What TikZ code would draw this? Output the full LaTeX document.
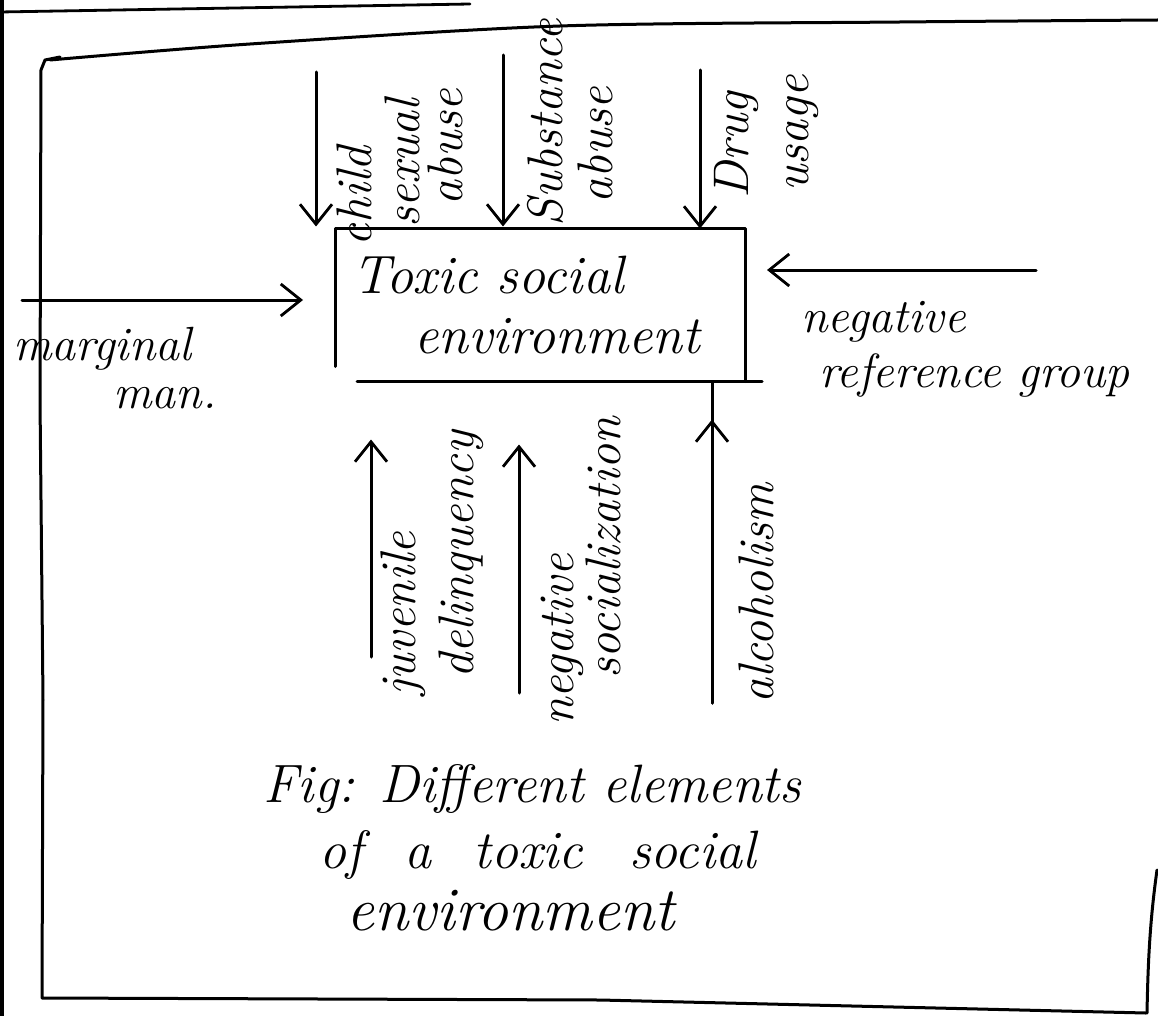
\documentclass[tikz,border=0pt]{standalone}
\usetikzlibrary{arrows.meta}
\begin{document}
\begin{tikzpicture}[x=1pt,y=-1pt,line width=3pt,line cap=round,line join=round,
  arr/.style={-{Straight Barb[length=20pt,width=32pt,line width=2.8pt]}},
  boxtext/.style={font=\fontsize{54}{62}\selectfont\itshape,inner sep=0pt,align=left},
  side/.style={font=\fontsize{48}{50}\selectfont\itshape,inner sep=0pt,anchor=base west},
  vlab/.style={font=\fontsize{50}{50}\selectfont\itshape,inner sep=0pt,anchor=base west,rotate=90},
  captxt/.style={font=\fontsize{54}{60}\selectfont\itshape,inner sep=0pt,anchor=base west}]

\path[use as bounding box] (0,0) rectangle (1158,1016);
\fill[white] (0,0) rectangle (1158,1016);

% page edges
\draw[line width=3.4pt] (2,0) -- (2,1016);
\draw[line width=2.8pt] (0,12) -- (470,4);

% outer frame
\draw (60,57) -- (45,60) -- (41,70) -- (40,400) -- (43,700) -- (42,998) -- (600,1000) -- (1146,1013);
\draw plot[smooth] coordinates {(50,60) (250,44) (560,26) (900,22) (1158,20)};
\draw (1157,870) .. controls (1150,920) and (1148,960) .. (1147,1013);

% central box
\node[boxtext,minimum width=407pt,minimum height=150pt] (box) at (540,305)
  {\raisebox{-6pt}{Toxic social}\\[-2pt]\hspace*{62pt}\raisebox{-6pt}{environment}\hspace*{28pt}};
\draw ([yshift=15pt]box.south west) -- (box.north west) -- (box.north east) -- (box.south east);
\draw ([xshift=22pt]box.south west) -- ([xshift=17pt]box.south east);

% arrow tails
\coordinate (t1) at (316,72);
\coordinate (t2) at (503,55);
\coordinate (t3) at (700,70);
\coordinate (t4) at (22,300);
\coordinate (t5) at (1036,270);
\coordinate (t6) at (371,657);
\coordinate (t7) at (519,693);
\coordinate (t8) at (712,703);

\draw[arr,shorten >=2pt] (t1) -- (t1 |- box.north);
\draw[arr,shorten >=2pt] (t2) -- (t2 |- box.north);
\draw[arr] (t3) -- (t3 |- box.north);
\draw[arr,shorten >=32pt] (t4) -- (t4 -| box.west);
\draw[arr,shorten >=22pt] (t5) -- (t5 -| box.east);
\draw[arr,shorten >=58pt] (t6) -- (t6 |- box.south);
\draw[arr,shorten >=63pt] (t7) -- (t7 |- box.south);
\draw (t8) -- (t8 |- box.south);
\draw[arr,shorten >=38pt] (t8) -- (t8 |- box.south);

% top labels
\node[vlab] (l1a) at (371,248) {child};
\node[vlab] (l1b) at (419,229) {sexual};
\node[vlab] (l1c) at (462,207) {abuse};
\node[vlab] (l2a) at (562,228) {Substance};
\node[vlab] (l2b) at (612,205) {abuse};
\node[vlab] (l3a) at (748,200) {Drug};
\node[vlab] (l3b) at (808,193) {usage};

% bottom labels
\node[vlab] (l6a) at (415,697) {juvenile};
\node[vlab] (l6b) at (473,680) {delinquency};
\node[vlab] (l7a) at (573,727) {negative};
\node[vlab] (l7b) at (620,680) {socialization};
\node[vlab] (l8a) at (773,705) {alcoholism};

% side labels
\node[side] (l4a) at (12,360) {marginal};
\node[side] (l4b) at (112,408) {man.};
\node[side] (l5a) at (800,332) {negative};
\node[side] (l5b) at (818,387) {reference group};

% caption
\node[captxt] (c1) at (262,802) {Fig: Different elements};
\node[captxt] (c2) at (318,868) {of\hspace{42pt}a\hspace{42pt}toxic\hspace{46pt}social};
\node[captxt,font=\fontsize{62}{66}\selectfont\itshape] (c3) at (345,930) {environment};
\end{tikzpicture}
\end{document}
